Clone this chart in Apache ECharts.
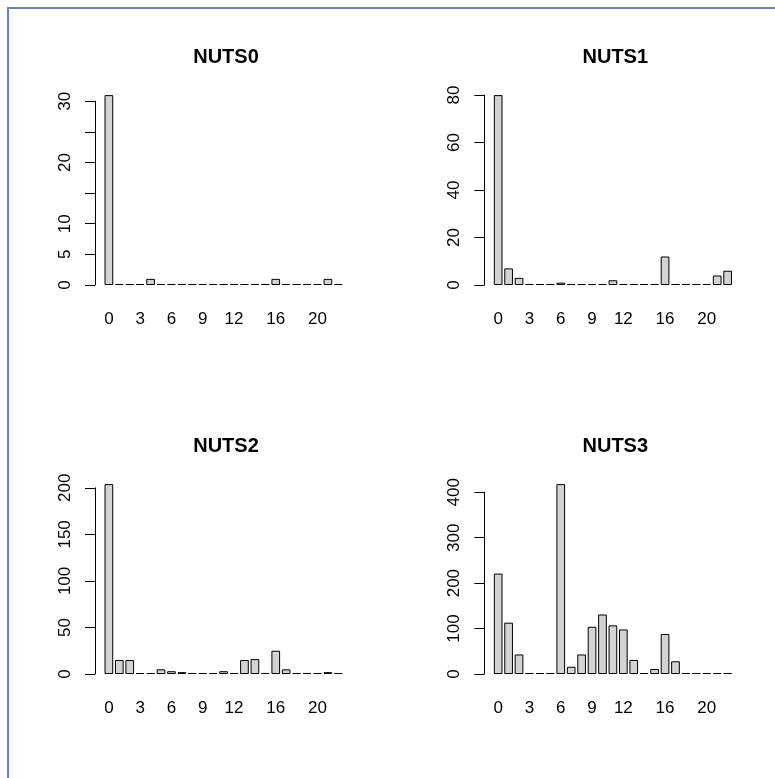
<!DOCTYPE html>
<html>
<head>
<meta charset="utf-8">
<script src="https://cdn.jsdelivr.net/npm/echarts@6/dist/echarts.min.js"></script>
<style>
  html, body { margin: 0; padding: 0; background: #fff; }
  #chart { width: 775px; height: 778px; }
</style>
</head>
<body>
<div id="chart"></div>
<script>
// hour-ish categories 0..22, R only prints some of the labels
const categories = ['0', '1', '2', '3', '4', '5', '6', '7', '8', '9', '10', '11',
  '12', '13', '14', '15', '16', '17', '18', '19', '20', '21', '22']
const shownLabels = [0, 3, 6, 9, 12, 16, 20]
const panelTitles = ['NUTS0', 'NUTS1', 'NUTS2', 'NUTS3']

const nuts0 = [31, 0, 0, 0, 1, 0, 0, 0, 0, 0, 0, 0, 0, 0, 0, 0, 1, 0, 0, 0, 0, 1, 0]
const nuts1 = [80, 7, 3, 0, 0, 0, 1, 0, 0, 0, 0, 2, 0, 0, 0, 0, 12, 0, 0, 0, 0, 4, 6]
const nuts2 = [204, 15, 15, 0, 0, 5, 3, 2, 0, 0, 0, 3, 0, 15, 16, 0, 25, 5, 0, 0, 0, 2, 1]
const nuts3 = [221, 113, 43, 0, 0, 0, 418, 16, 43, 104, 131, 107, 98, 31, 0, 11, 88, 28, 0, 0, 0, 0, 0]

// y axis ticks per panel
const topTicks = [30, 80, 200, 400]
const tickSteps = [5, 20, 50, 100]
const hiddenTicks = [[15, 25], [], [], []]

const panelData = [nuts0, nuts1, nuts2, nuts3]

// layout (px) -- where R put the axis line and the zero line
const axisX = [95, 484.3, 95, 484.3]
const zeroY = [285, 285, 674, 674]
const plotH = 197.5 // 0 .. max*1.04
const band = 10.43
const axisGap = 8.66

const chart = echarts.init(document.getElementById('chart'))

const grids = []
const xAxes = []
const yAxes = []
const series = []
const titles = []

panelData.forEach((vals, i) => {
  const max = Math.max(...vals)
  const h = topTicks[i] / (max * 1.04) * plotH
  grids.push({
    left: axisX[i] + axisGap,
    top: zeroY[i] - h,
    width: band * categories.length,
    height: h
  })
  titles.push({
    text: panelTitles[i],
    left: axisX[i] + 126,
    top: zeroY[i] - 243,
    textAlign: 'center',
    textStyle: {
      fontFamily: 'Liberation Sans',
      fontWeight: 'bold',
      fontSize: 20,
      color: '#000'
    }
  })
  xAxes.push({
    type: 'category',
    gridIndex: i,
    data: categories,
    axisLine: { show: false },
    axisTick: { show: false },
    axisLabel: {
      interval: idx => shownLabels.includes(idx),
      margin: 26,
      fontSize: 17,
      fontFamily: 'Liberation Sans',
      color: '#000'
    }
  })
  yAxes.push({
    type: 'value',
    gridIndex: i,
    min: 0,
    max: topTicks[i],
    interval: tickSteps[i],
    offset: axisGap,
    splitLine: { show: false },
    axisLine: { show: true, lineStyle: { color: '#000', width: 1 } },
    axisTick: { show: true, length: 10, lineStyle: { color: '#000', width: 1 } },
    axisLabel: {
      rotate: 90,
      margin: 21,
      fontSize: 17,
      fontFamily: 'Liberation Sans',
      color: '#000',
      formatter: v => hiddenTicks[i].includes(v) ? '' : String(v)
    }
  })
  series.push({
    type: 'bar',
    name: panelTitles[i],
    xAxisIndex: i,
    yAxisIndex: i,
    data: vals,
    barCategoryGap: '16.67%',
    barMinHeight: 1,
    clip: false,
    silent: true,
    itemStyle: {
      color: '#d3d3d3',
      borderColor: '#000',
      borderWidth: 1
    }
  })
})

chart.setOption({
  animation: false,
  backgroundColor: '#fff',
  title: titles,
  grid: grids,
  xAxis: xAxes,
  yAxis: yAxes,
  series: series,
  // blue frame of the original screenshot (top + left edge only)
  graphic: [
    { type: 'line', shape: { x1: 7, y1: 8, x2: 775, y2: 8 }, style: { stroke: '#5b87c5', lineWidth: 2 } },
    { type: 'line', shape: { x1: 8, y1: 7, x2: 8, y2: 778 }, style: { stroke: '#5b87c5', lineWidth: 2 } }
  ]
})
</script>
</body>
</html>
